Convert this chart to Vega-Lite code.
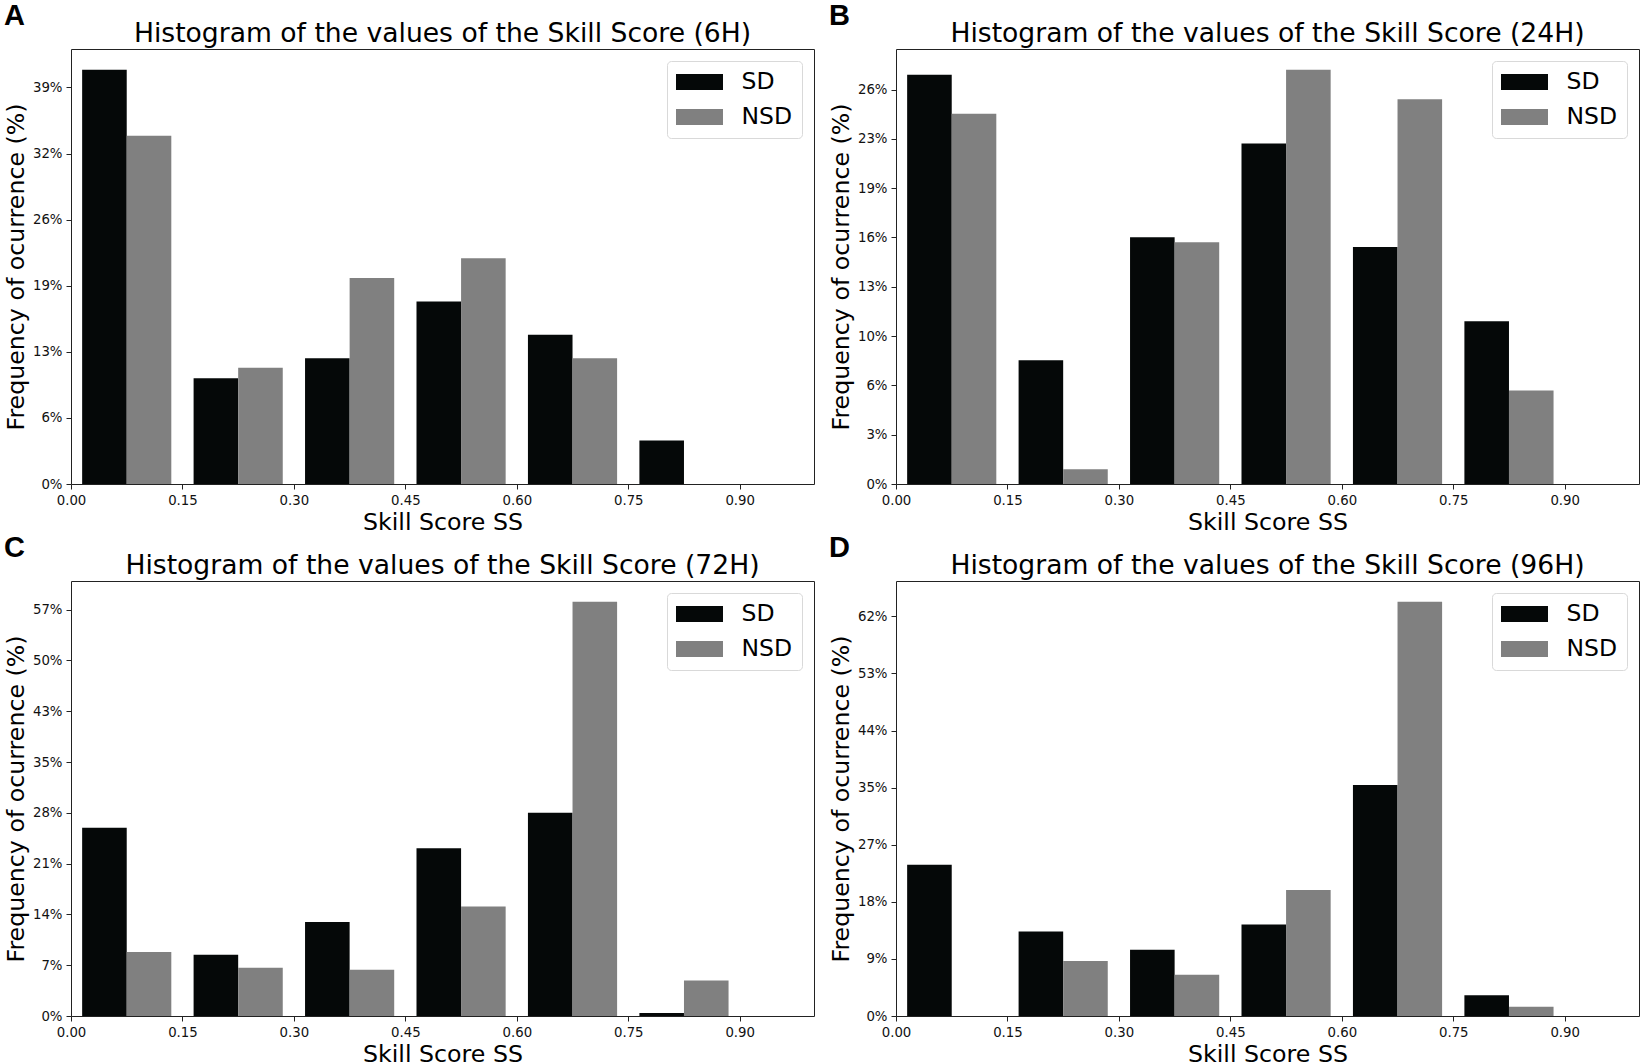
{
  "$schema": "https://vega.github.io/schema/vega-lite/v6.json",
  "description": "Histograms of the Skill Score values for SD and NSD at four lead times",
  "background": "white",
  "padding": {"left": 3, "top": 1, "right": 0, "bottom": 0},
  "datasets": {
    "hist": [
      {"panel": "6H", "series": "SD", "bin": 0.00, "freq": 40.44},
      {"panel": "6H", "series": "SD", "bin": 0.15, "freq": 10.33},
      {"panel": "6H", "series": "SD", "bin": 0.30, "freq": 12.28},
      {"panel": "6H", "series": "SD", "bin": 0.45, "freq": 17.82},
      {"panel": "6H", "series": "SD", "bin": 0.60, "freq": 14.57},
      {"panel": "6H", "series": "SD", "bin": 0.75, "freq": 4.24},
      {"panel": "6H", "series": "NSD", "bin": 0.00, "freq": 33.99},
      {"panel": "6H", "series": "NSD", "bin": 0.15, "freq": 11.34},
      {"panel": "6H", "series": "NSD", "bin": 0.30, "freq": 20.10},
      {"panel": "6H", "series": "NSD", "bin": 0.45, "freq": 22.03},
      {"panel": "6H", "series": "NSD", "bin": 0.60, "freq": 12.28},
      {"panel": "6H", "series": "NSD", "bin": 0.75, "freq": 0},
      {"panel": "24H", "series": "SD", "bin": 0.00, "freq": 26.77},
      {"panel": "24H", "series": "SD", "bin": 0.15, "freq": 8.09},
      {"panel": "24H", "series": "SD", "bin": 0.30, "freq": 16.15},
      {"panel": "24H", "series": "SD", "bin": 0.45, "freq": 22.27},
      {"panel": "24H", "series": "SD", "bin": 0.60, "freq": 15.50},
      {"panel": "24H", "series": "SD", "bin": 0.75, "freq": 10.64},
      {"panel": "24H", "series": "NSD", "bin": 0.00, "freq": 24.22},
      {"panel": "24H", "series": "NSD", "bin": 0.15, "freq": 0.96},
      {"panel": "24H", "series": "NSD", "bin": 0.30, "freq": 15.82},
      {"panel": "24H", "series": "NSD", "bin": 0.45, "freq": 27.10},
      {"panel": "24H", "series": "NSD", "bin": 0.60, "freq": 25.18},
      {"panel": "24H", "series": "NSD", "bin": 0.75, "freq": 6.12},
      {"panel": "72H", "series": "SD", "bin": 0.00, "freq": 26.28},
      {"panel": "72H", "series": "SD", "bin": 0.15, "freq": 8.56},
      {"panel": "72H", "series": "SD", "bin": 0.30, "freq": 13.11},
      {"panel": "72H", "series": "SD", "bin": 0.45, "freq": 23.44},
      {"panel": "72H", "series": "SD", "bin": 0.60, "freq": 28.37},
      {"panel": "72H", "series": "SD", "bin": 0.75, "freq": 0.42},
      {"panel": "72H", "series": "NSD", "bin": 0.00, "freq": 8.93},
      {"panel": "72H", "series": "NSD", "bin": 0.15, "freq": 6.74},
      {"panel": "72H", "series": "NSD", "bin": 0.30, "freq": 6.46},
      {"panel": "72H", "series": "NSD", "bin": 0.45, "freq": 15.30},
      {"panel": "72H", "series": "NSD", "bin": 0.60, "freq": 57.85},
      {"panel": "72H", "series": "NSD", "bin": 0.75, "freq": 4.96},
      {"panel": "96H", "series": "SD", "bin": 0.00, "freq": 23.44},
      {"panel": "96H", "series": "SD", "bin": 0.15, "freq": 13.11},
      {"panel": "96H", "series": "SD", "bin": 0.30, "freq": 10.27},
      {"panel": "96H", "series": "SD", "bin": 0.45, "freq": 14.20},
      {"panel": "96H", "series": "SD", "bin": 0.60, "freq": 35.83},
      {"panel": "96H", "series": "SD", "bin": 0.75, "freq": 3.20},
      {"panel": "96H", "series": "NSD", "bin": 0.00, "freq": 0},
      {"panel": "96H", "series": "NSD", "bin": 0.15, "freq": 8.52},
      {"panel": "96H", "series": "NSD", "bin": 0.30, "freq": 6.40},
      {"panel": "96H", "series": "NSD", "bin": 0.45, "freq": 19.52},
      {"panel": "96H", "series": "NSD", "bin": 0.60, "freq": 64.23},
      {"panel": "96H", "series": "NSD", "bin": 0.75, "freq": 1.45}
    ]
  },
  "columns": 2,
  "spacing": {"row": -2, "column": 13},
  "resolve": {"scale": {"color": "independent", "x": "independent", "y": "independent"}, "legend": {"color": "independent"}},
  "concat": [
    {
      "title": {"text": "A", "anchor": "start", "frame": "bounds", "font": "Liberation Sans", "fontWeight": "bold", "fontSize": 29, "offset": -10},
      "resolve": {"scale": {"color": "independent"}, "legend": {"color": "independent"}},
      "vconcat": [
        {
          "title": "Histogram of the values of the Skill Score (6H)",
          "width": 743,
          "height": 435,
          "data": {"name": "hist"},
          "transform": [
            {"filter": "datum.panel == '6H'"},
            {"calculate": "datum.bin + 0.015 + (datum.series == 'NSD' ? 0.06 : 0)", "as": "bar_lo"},
            {"calculate": "datum.bar_lo + 0.06", "as": "bar_hi"}
          ],
          "mark": {"type": "bar"},
          "encoding": {
            "x": {"field": "bar_lo", "type": "quantitative", "scale": {"domain": [0, 1], "nice": false},
              "axis": {"title": "Skill Score SS", "values": [0, 0.15, 0.3, 0.45, 0.6, 0.75, 0.9], "format": ".2f"}},
            "x2": {"field": "bar_hi"},
            "y": {"field": "freq", "type": "quantitative", "scale": {"domain": [0, 42.46], "nice": false},
              "axis": {"title": "Frequency of ocurrence (%)", "values": [0, 6.4516, 12.9032, 19.3548, 25.8065, 32.2581, 38.7097], "labelExpr": "format(datum.value, '.0f') + '%'"}},
            "y2": {"datum": 0},
            "color": {"field": "series", "type": "nominal", "scale": {"domain": ["SD", "NSD"], "range": ["#050808", "#808080"]}}
          }
        }
      ]
    },
    {
      "title": {"text": "B", "anchor": "start", "frame": "bounds", "font": "Liberation Sans", "fontWeight": "bold", "fontSize": 29, "offset": -10},
      "resolve": {"scale": {"color": "independent"}, "legend": {"color": "independent"}},
      "vconcat": [
        {
          "title": "Histogram of the values of the Skill Score (24H)",
          "width": 743,
          "height": 435,
          "data": {"name": "hist"},
          "transform": [
            {"filter": "datum.panel == '24H'"},
            {"calculate": "datum.bin + 0.015 + (datum.series == 'NSD' ? 0.06 : 0)", "as": "bar_lo"},
            {"calculate": "datum.bar_lo + 0.06", "as": "bar_hi"}
          ],
          "mark": {"type": "bar"},
          "encoding": {
            "x": {"field": "bar_lo", "type": "quantitative", "scale": {"domain": [0, 1], "nice": false},
              "axis": {"title": "Skill Score SS", "values": [0, 0.15, 0.3, 0.45, 0.6, 0.75, 0.9], "format": ".2f"}},
            "x2": {"field": "bar_hi"},
            "y": {"field": "freq", "type": "quantitative", "scale": {"domain": [0, 28.46], "nice": false},
              "axis": {"title": "Frequency of ocurrence (%)", "values": [0, 3.2258, 6.4516, 9.6774, 12.9032, 16.129, 19.3548, 22.5806, 25.8065], "labelExpr": "format(datum.value, '.0f') + '%'"}},
            "y2": {"datum": 0},
            "color": {"field": "series", "type": "nominal", "scale": {"domain": ["SD", "NSD"], "range": ["#050808", "#808080"]}}
          }
        }
      ]
    },
    {
      "title": {"text": "C", "anchor": "start", "frame": "bounds", "font": "Liberation Sans", "fontWeight": "bold", "fontSize": 29, "offset": -10},
      "resolve": {"scale": {"color": "independent"}, "legend": {"color": "independent"}},
      "vconcat": [
        {
          "title": "Histogram of the values of the Skill Score (72H)",
          "width": 743,
          "height": 435,
          "data": {"name": "hist"},
          "transform": [
            {"filter": "datum.panel == '72H'"},
            {"calculate": "datum.bin + 0.015 + (datum.series == 'NSD' ? 0.06 : 0)", "as": "bar_lo"},
            {"calculate": "datum.bar_lo + 0.06", "as": "bar_hi"}
          ],
          "mark": {"type": "bar"},
          "encoding": {
            "x": {"field": "bar_lo", "type": "quantitative", "scale": {"domain": [0, 1], "nice": false},
              "axis": {"title": "Skill Score SS", "values": [0, 0.15, 0.3, 0.45, 0.6, 0.75, 0.9], "format": ".2f"}},
            "x2": {"field": "bar_hi"},
            "y": {"field": "freq", "type": "quantitative", "scale": {"domain": [0, 60.74], "nice": false},
              "axis": {"title": "Frequency of ocurrence (%)", "values": [0, 7.092, 14.184, 21.276, 28.368, 35.46, 42.552, 49.644, 56.736], "labelExpr": "format(datum.value, '.0f') + '%'"}},
            "y2": {"datum": 0},
            "color": {"field": "series", "type": "nominal", "scale": {"domain": ["SD", "NSD"], "range": ["#050808", "#808080"]}}
          }
        }
      ]
    },
    {
      "title": {"text": "D", "anchor": "start", "frame": "bounds", "font": "Liberation Sans", "fontWeight": "bold", "fontSize": 29, "offset": -10},
      "resolve": {"scale": {"color": "independent"}, "legend": {"color": "independent"}},
      "vconcat": [
        {
          "title": "Histogram of the values of the Skill Score (96H)",
          "width": 743,
          "height": 435,
          "data": {"name": "hist"},
          "transform": [
            {"filter": "datum.panel == '96H'"},
            {"calculate": "datum.bin + 0.015 + (datum.series == 'NSD' ? 0.06 : 0)", "as": "bar_lo"},
            {"calculate": "datum.bar_lo + 0.06", "as": "bar_hi"}
          ],
          "mark": {"type": "bar"},
          "encoding": {
            "x": {"field": "bar_lo", "type": "quantitative", "scale": {"domain": [0, 1], "nice": false},
              "axis": {"title": "Skill Score SS", "values": [0, 0.15, 0.3, 0.45, 0.6, 0.75, 0.9], "format": ".2f"}},
            "x2": {"field": "bar_hi"},
            "y": {"field": "freq", "type": "quantitative", "scale": {"domain": [0, 67.44], "nice": false},
              "axis": {"title": "Frequency of ocurrence (%)", "values": [0, 8.85, 17.7, 26.55, 35.4, 44.25, 53.1, 61.95], "labelExpr": "format(datum.value, '.0f') + '%'"}},
            "y2": {"datum": 0},
            "color": {"field": "series", "type": "nominal", "scale": {"domain": ["SD", "NSD"], "range": ["#050808", "#808080"]}}
          }
        }
      ]
    }
  ],
  "config": {
    "font": "DejaVu Sans",
    "view": {"stroke": "#222222", "strokeWidth": 1},
    "bar": {"cornerRadius": 0},
    "title": {"font": "DejaVu Sans", "fontSize": 26.6, "fontWeight": "normal", "color": "black", "offset": 1},
    "axis": {
      "grid": false,
      "domain": false,
      "tickColor": "#222222",
      "tickSize": 5,
      "labelFont": "DejaVu Sans",
      "labelFontSize": 13.3,
      "labelColor": "#111111",
      "labelPadding": 4,
      "titleFont": "DejaVu Sans",
      "titleFontSize": 23.7,
      "titleFontWeight": "normal",
      "titleColor": "black",
      "titlePadding": 4
    },
    "axisY": {"labelAngle": 0},
    "axisX": {"labelAngle": 0, "labelFlush": false},
    "legend": {
      "title": null,
      "orient": "top-right",
      "offset": 12,
      "padding": 9,
      "fillColor": "white",
      "strokeColor": "#d9d9d9",
      "cornerRadius": 4,
      "labelFont": "DejaVu Sans",
      "labelFontSize": 23.5,
      "labelColor": "black",
      "symbolType": "M-2,-0.68H2V0.68H-2Z",
      "symbolSize": 552,
      "symbolStrokeWidth": 0,
      "symbolOffset": 11.5,
      "labelOffset": 30,
      "rowPadding": 11
    }
  }
}
